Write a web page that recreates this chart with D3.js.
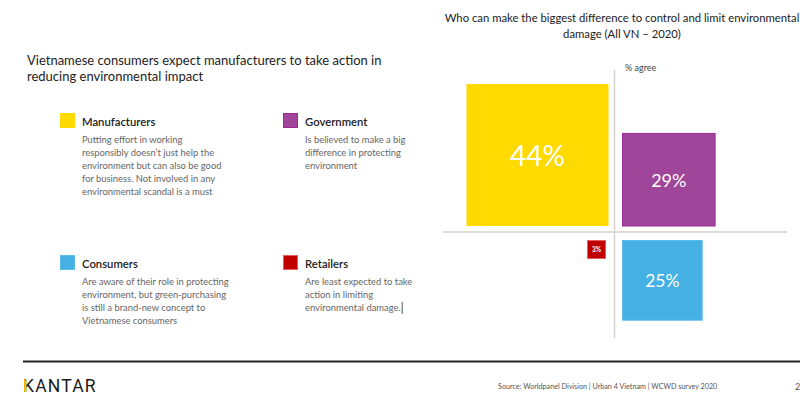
<!DOCTYPE html>
<html><head><meta charset="utf-8">
<script src="https://cdn.jsdelivr.net/npm/d3@7"></script>
<style>
html,body{margin:0;padding:0;background:#fff;}
svg{display:block;font-family:Lato,"Open Sans",sans-serif;}
</style></head>
<body><svg id="c" width="800" height="402"></svg>
<script>
const categories = ["Manufacturers", "Government", "Consumers", "Retailers"];
const values = [44, 29, 25, 3];
const valueLabels = ["44%", "29%", "25%", "3%"];
const colors = ["#FFDA00", "#A0469A", "#45B0E4", "#C00000"];
const borders = ["#FFDA00", "#9C2A96", "#5CBCEA", "#E06060"];
const quadrants = ["tl", "tr", "br", "bl"];
const descriptions = [
  ["Putting effort in working", "responsibly doesn\u2019t just help the", "environment but can also be good", "for business. Not  involved in any", "environmental scandal is a must"],
  ["Is believed to make a big", "difference in protecting", "environment"],
  ["Are aware of their role in protecting", "environment, but green-purchasing", "is still a brand-new concept to", "Vietnamese consumers"],
  ["Are least expected to take", "action in limiting", "environmental damage."]
];
const chartTitle = ["Who can make the biggest difference to control and limit environmental", "damage (All VN \u2013 2020)"];
const headline = ["Vietnamese consumers expect manufacturers to take action in", "reducing environmental impact"];
const axisNote = "% agree";
const source = "Source: Worldpanel Division | Urban 4 Vietnam | WCWD survey 2020";
const pageNo = "2";

const svg = d3.select("#c");

// Headline
svg.append("g").selectAll("text").data(headline).join("text")
  .attr("x", 27).attr("y", (d, i) => 65 + i * 15.5)
  .attr("font-size", 13).attr("fill", "#222").text(d => d);

// Chart title
svg.append("g").selectAll("text").data(chartTitle).join("text")
  .attr("x", 622).attr("y", (d, i) => 22 + i * 15.5)
  .attr("text-anchor", "middle").attr("font-size", 11.3).attr("fill", "#222").text(d => d);

// Legend blocks
const legX = [60, 283, 60, 283];
const legY = [113, 113, 255, 255];
categories.forEach((c, i) => {
  const g = svg.append("g").attr("transform", `translate(${legX[i]},${legY[i]})`);
  g.append("rect").attr("x", 0.5).attr("y", 0.5).attr("width", 14).attr("height", 14)
    .attr("fill", colors[i]).attr("stroke", borders[i]).attr("stroke-width", 1);
  g.append("text").attr("x", 22).attr("y", 12.5).attr("font-size", 11.3).attr("font-weight", 600)
    .attr("fill", "#222").text(c);
  const lines = g.selectAll("text.d").data(descriptions[i]).join("text").attr("class", "d")
    .attr("x", 22).attr("y", (d, j) => 29.5 + j * 13.2)
    .attr("font-size", 9.4).attr("fill", "#666").text(d => d);
  if (i === 3) {
    // text cursor artifact after the last line
    const node = lines.nodes()[lines.size() - 1];
    const bb = node.getBBox();
    g.append("line").attr("x1", bb.x + bb.width + 1.5).attr("x2", bb.x + bb.width + 1.5)
      .attr("y1", bb.y).attr("y2", bb.y + bb.height + 1).attr("stroke", "#555").attr("stroke-width", 1);
  }
});

// Quadrant chart
const cx = 614.5, cy = 232;
const side = d3.scaleLinear().domain([0, 44]).range([0, 142]);
const minSide = 19;
svg.append("line").attr("x1", cx).attr("x2", cx).attr("y1", 70).attr("y2", 338)
  .attr("stroke", "#d4d2cb").attr("stroke-width", 1.5);
svg.append("line").attr("x1", 443).attr("x2", 787).attr("y1", cy).attr("y2", cy)
  .attr("stroke", "#d4d2cb").attr("stroke-width", 1.5);
svg.append("text").attr("x", 625).attr("y", 71).attr("font-size", 9).attr("fill", "#444").text(axisNote);

const gaps = {tl: [6, 6], tr: [7.5, 5.5], br: [7.5, 8], bl: [8.5, 8]};
const sq = values.map((v, i) => {
  const s = Math.max(side(v), minSide);
  const q = quadrants[i], g = gaps[q];
  const x = q.endsWith("l") ? cx - g[0] - s : cx + g[0];
  const y = q.startsWith("t") ? cy - g[1] - s : cy + g[1];
  return {v, s, x, y, i};
});
const sg = svg.append("g");
sg.selectAll("rect").data(sq).join("rect")
  .attr("x", d => d.x + 0.5).attr("y", d => d.y + 0.5)
  .attr("width", d => d.s - 1).attr("height", d => d.s - 1)
  .attr("fill", d => colors[d.i]).attr("stroke", d => borders[d.i]).attr("stroke-width", 1);
const fs = [28, 18, 17.5, 6.5];
sg.selectAll("text").data(sq).join("text")
  .attr("x", d => d.x + d.s / 2).attr("y", d => d.y + d.s / 2)
  .attr("text-anchor", "middle").attr("dominant-baseline", "central")
  .attr("font-size", d => fs[d.i]).attr("font-weight", d => d.i === 3 ? 700 : 400)
  .attr("fill", "#fff").text(d => valueLabels[d.i]);

// Footer
svg.append("line").attr("x1", 23).attr("x2", 800).attr("y1", 361.5).attr("y2", 361.5)
  .attr("stroke", "#222").attr("stroke-width", 2);
svg.append("text").attr("x", 23).attr("y", 392).attr("font-size", 17.5)
  .attr("font-family", "Roboto, sans-serif").attr("fill", "#1a1a1a").attr("letter-spacing", 1.2).text("KANTAR");
svg.append("rect").attr("x", 24.2).attr("y", 379.5).attr("width", 2.2).attr("height", 12.5).attr("fill", "#F2C500");
svg.append("text").attr("x", 498).attr("y", 389).attr("font-size", 7.2).attr("fill", "#555").text(source);
svg.append("text").attr("x", 795).attr("y", 390).attr("font-size", 9).attr("fill", "#555").text(pageNo);
</script></body></html>
